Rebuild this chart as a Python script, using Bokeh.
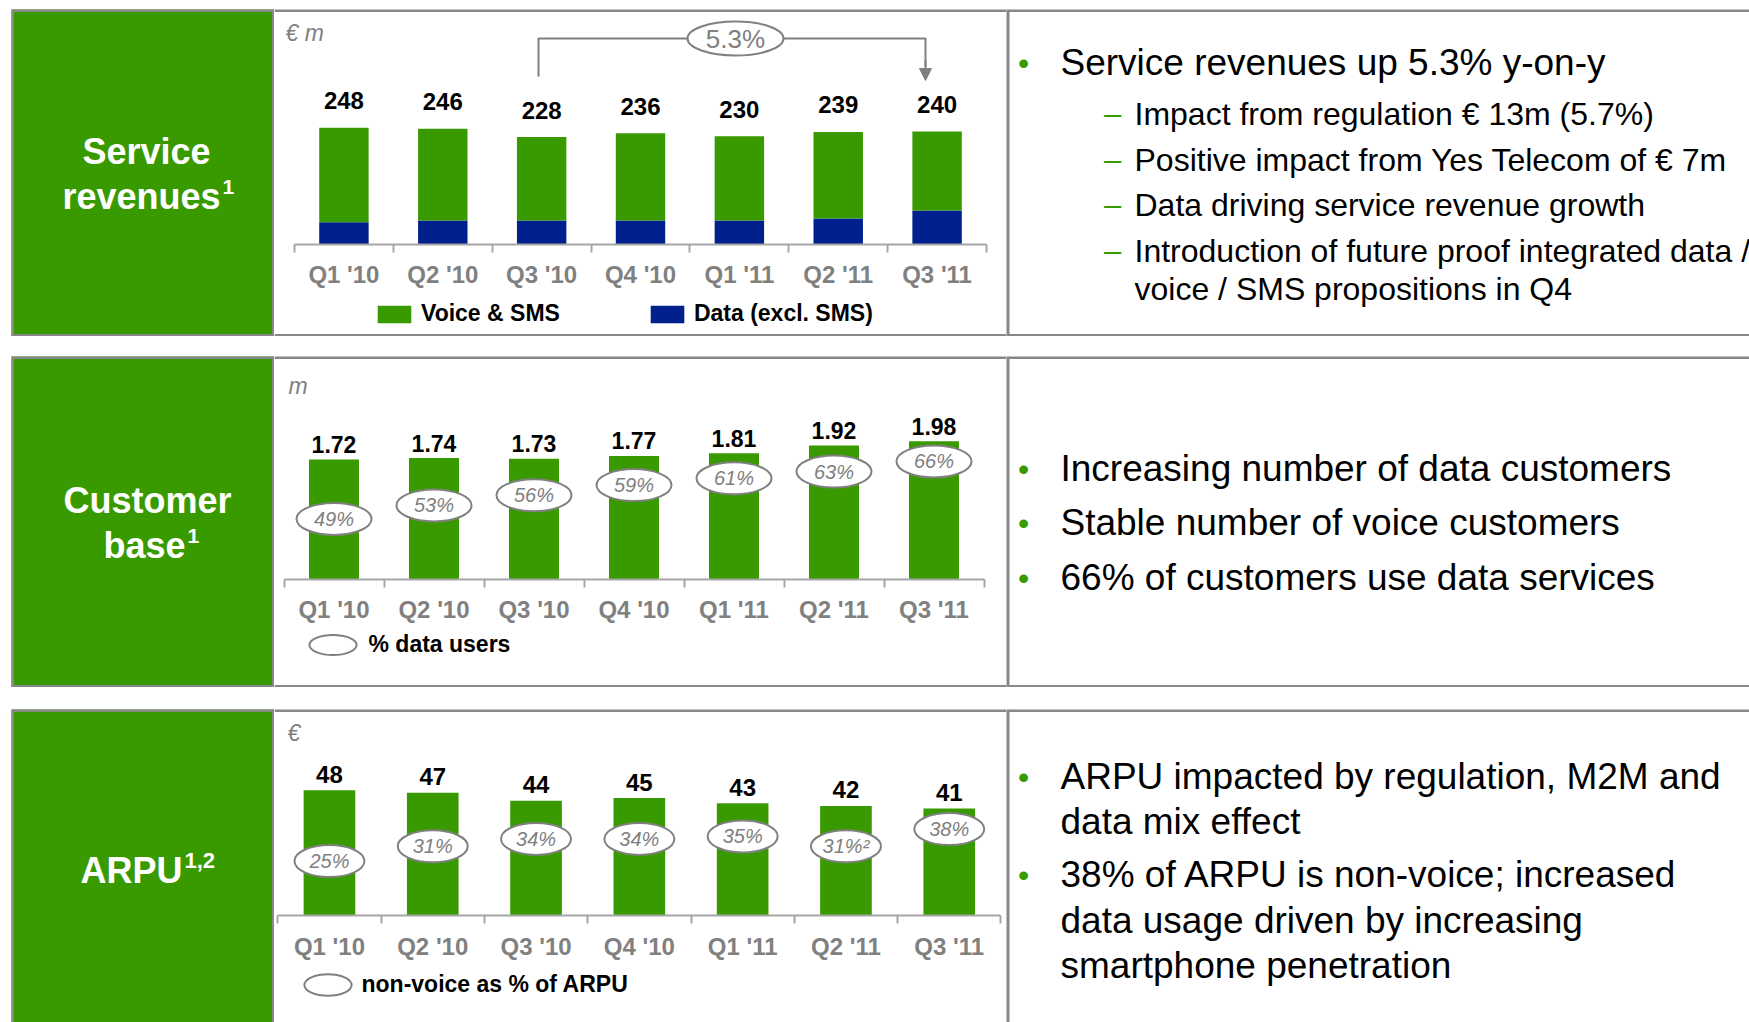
from bokeh.plotting import figure
from bokeh.layouts import column, row
from bokeh.models import (Range1d, LinearAxis, FixedTicker, Span, Legend, LegendItem,
                          ColumnDataSource, Arrow, NormalHead, Spacer)
from bokeh.core.properties import value
from bokeh.embed import file_html
from bokeh.resources import INLINE

# ---------------- data ----------------
quarters = ["Q1 '10", "Q2 '10", "Q3 '10", "Q4 '10", "Q1 '11", "Q2 '11", "Q3 '11"]

service_total = [248, 246, 228, 236, 230, 239, 240]
service_data = [47, 51, 51, 51, 51, 55, 72]
service_voice = [201, 195, 177, 185, 179, 184, 168]
service_growth = "5.3%"

customers = [1.72, 1.74, 1.73, 1.77, 1.81, 1.92, 1.98]
data_user_pct = [49, 53, 56, 59, 61, 63, 66]

arpu = [48, 47, 44, 45, 43, 42, 41]
nonvoice_pct = [25, 31, 34, 34, 35, 31, 38]
nonvoice_labels = ["25%", "31%", "34%", "34%", "35%", "31%\u00b2", "38%"]

text1_main = ["Service revenues up 5.3% y-on-y"]
text1_sub = ["Impact from regulation \u20ac 13m (5.7%)",
             "Positive impact from Yes Telecom of \u20ac 7m",
             "Data driving service revenue growth",
             "Introduction of future proof integrated data /",
             "voice / SMS propositions in Q4"]
text2_main = ["Increasing number of data customers",
              "Stable number of voice customers",
              "66% of customers use data services"]
text3_main = ["ARPU impacted by regulation, M2M and",
              "data mix effect",
              "38% of ARPU is non-voice; increased",
              "data usage driven by increasing",
              "smartphone penetration"]

# ---------------- style ----------------
FONT = "Liberation Sans"
GREEN = "#399A00"
BLUE = "#00208E"
BORDER = "#888888"
AXIS = "#A6A6A6"
GREY_TXT = "#808080"
ELL = "#808080"

CHART_LEFT = 274
CHART_W = 732
TITLE_W = 263
TEXT_W = 743

xs = [i + 0.5 for i in range(len(quarters))]


def base_fig(w, h, xr, yr, bg="white"):
    p = figure(width=w, height=h, x_range=xr, y_range=yr, title=None,
               toolbar_location=None, output_backend="svg",
               x_axis_location=None, y_axis_location=None, min_border=0,
               outline_line_color=None, background_fill_color=bg, border_fill_color=bg)
    p.grid.grid_line_color = None
    return p


def border(p, loc, dim, w):
    p.add_layout(Span(location=loc, dimension=dim, line_color=BORDER, line_width=w))


def make_chart(top, h, axis_left, cw, baseline, ppu, standoff, bottom_border=True):
    xr = Range1d((CHART_LEFT - axis_left) / cw, (CHART_LEFT + CHART_W - axis_left) / cw)
    yr = Range1d((baseline - (top + h)) / ppu, (baseline - top) / ppu)
    p = base_fig(CHART_W, h, xr, yr)
    border(p, yr.end, "width", 5)
    if bottom_border:
        border(p, yr.start, "width", 5)
    n = len(quarters)
    tick_axis = LinearAxis(ticker=FixedTicker(ticks=list(range(n + 1))), fixed_location=0,
                           bounds=(0, n), axis_line_color=AXIS, axis_line_width=2,
                           major_tick_line_color=AXIS, major_tick_line_width=2,
                           major_tick_in=0, major_tick_out=8, minor_tick_line_color=None,
                           major_label_text_font_size="0px", major_label_text_alpha=0)
    p.add_layout(tick_axis, "below")
    lab_axis = LinearAxis(ticker=FixedTicker(ticks=xs),
                          major_label_overrides={x: q for x, q in zip(xs, quarters)},
                          fixed_location=0, axis_line_color=None, major_tick_line_color=None,
                          minor_tick_line_color=None, major_tick_in=0, major_tick_out=0,
                          major_label_standoff=standoff, major_label_text_font=FONT,
                          major_label_text_font_style="bold", major_label_text_font_size="24px",
                          major_label_text_color=GREY_TXT)
    p.add_layout(lab_axis, "below")

    def fx(px):
        return (px - axis_left) / cw

    def fy(py):
        return (baseline - py) / ppu
    return p, fx, fy


def make_title(h, bottom_border=True):
    p = base_fig(TITLE_W, h, Range1d(0, TITLE_W), Range1d(h, 0), bg=GREEN)
    border(p, 0, "height", 5)
    border(p, TITLE_W, "height", 5)
    border(p, 0, "width", 5)
    if bottom_border:
        border(p, h, "width", 5)
    return p


def title_text(p, x, y, txt, size, align):
    p.text(x=x, y=y, text=txt, text_font=value(FONT), text_font_style="bold",
           text_font_size=size, text_color="white", text_align=align, text_baseline="middle")


def make_text(h, bottom_border=True):
    p = base_fig(TEXT_W, h, Range1d(0, TEXT_W), Range1d(h, 0))
    border(p, 0, "height", 6)
    border(p, 0, "width", 5)
    if bottom_border:
        border(p, h, "width", 5)
    return p


def body_text(p, x, y, txt, size):
    p.text(x=x, y=y, text=txt, text_font=value(FONT), text_font_size=size,
           text_color="black", text_align="left", text_baseline="middle")


def marks(p, x, y, sym, size):
    p.text(x=x, y=y, text=[sym] * len(y), text_font=value(FONT), text_font_size=size,
           text_color=GREEN, text_align="center", text_baseline="middle")


# ================= Row 1: service revenues =================
c1, fx1, fy1 = make_chart(9, 327, 294, 98.86, 244, 0.471, 16)
src1 = ColumnDataSource(dict(x=xs, total=service_total, lbl=[str(v) for v in service_total],
                             data=service_data, voice=service_voice))
r_data, r_voice = c1.vbar_stack(["data", "voice"], x="x", width=0.5, source=src1,
                                fill_color=[BLUE, GREEN], line_color=None)
c1.text(x="x", y="total", text="lbl", source=src1, y_offset=-27, text_align="center",
        text_baseline="middle", text_font=value(FONT), text_font_style="bold",
        text_font_size="24px", text_color="black")
c1.text(x=[fx1(285)], y=[fy1(32)], text=["\u20ac m"], text_font=value(FONT),
        text_font_style="italic", text_font_size="23px", text_color=GREY_TXT,
        text_baseline="middle")
c1.line(x=[fx1(538), fx1(538), fx1(925), fx1(925)], y=[fy1(76), fy1(38), fy1(38), fy1(66)],
        line_color="#7F7F7F", line_width=2)
c1.add_layout(Arrow(end=NormalHead(size=12, fill_color="#7F7F7F", line_color="#7F7F7F"),
                    x_start=fx1(925), y_start=fy1(60), x_end=fx1(925), y_end=fy1(80),
                    line_color="#7F7F7F", line_width=2))
c1.ellipse(x=[fx1(735)], y=[fy1(38)], width=96, height=34, width_units="screen",
           height_units="screen", fill_color="white", line_color=ELL, line_width=2)
c1.text(x=[fx1(735)], y=[fy1(38)], text=[service_growth], text_font=value(FONT),
        text_font_size="26px", text_color=GREY_TXT, text_align="center", text_baseline="middle")
leg1 = Legend(items=[LegendItem(label="Voice & SMS", renderers=[r_voice]),
                     LegendItem(label="Data (excl. SMS)", renderers=[r_data])],
              orientation="horizontal", location=(99, 9), border_line_color=None,
              background_fill_alpha=0, padding=0, margin=0, spacing=86,
              glyph_width=42, glyph_height=22, label_standoff=6,
              label_text_font=FONT, label_text_font_style="bold",
              label_text_font_size="23px", label_text_color="black")
c1.add_layout(leg1)

t1 = make_title(327)
title_text(t1, [135], [142], ["Service"], "36px", "center")
title_text(t1, [209], [187], ["revenues"], "36px", "right")
title_text(t1, [211], [177], ["1"], "21px", "left")

x1 = make_text(327)
marks(x1, [17], [53], "\u2022", "32px")
body_text(x1, [54], [53], text1_main, "37px")
marks(x1, [106] * 4, [104, 150, 195, 241], "\u2013", "31px")
body_text(x1, [128] * 5, [104, 150, 195, 241, 279], text1_sub, "32px")

# ================= Row 2: customer base =================
c2, fx2, fy2 = make_chart(356, 331, 283.5, 100, 579, 69.8, 16)
c2.extra_y_ranges = {"pct": Range1d(-0.8, 97.0)}
src2 = ColumnDataSource(dict(x=xs, v=customers, lbl=["%.2f" % v for v in customers],
                             pct=data_user_pct, plbl=["%d%%" % v for v in data_user_pct]))
c2.vbar(x="x", top="v", width=0.5, source=src2, fill_color=GREEN, line_color=None)
c2.text(x="x", y="v", text="lbl", source=src2, y_offset=-15, text_align="center",
        text_baseline="middle", text_font=value(FONT), text_font_style="bold",
        text_font_size="23px", text_color="black")
e2 = c2.ellipse(x="x", y="pct", width=75, height=32, width_units="screen", height_units="screen",
                source=src2, y_range_name="pct", fill_color="white", line_color=ELL, line_width=2)
c2.text(x="x", y="pct", text="plbl", source=src2, y_range_name="pct", text_align="center",
        text_baseline="middle", text_font=value(FONT), text_font_style="italic",
        text_font_size="20px", text_color=GREY_TXT)
c2.text(x=[fx2(288)], y=[fy2(385)], text=["m"], text_font=value(FONT),
        text_font_style="italic", text_font_size="23px", text_color=GREY_TXT,
        text_baseline="middle")
leg2 = Legend(items=[LegendItem(label="% data users", renderers=[e2])],
              location=(28.5, 13.5), border_line_color=None, background_fill_alpha=0,
              padding=0, margin=0, glyph_width=59, glyph_height=59, label_standoff=7,
              label_text_font=FONT, label_text_font_style="bold",
              label_text_font_size="23px", label_text_color="black")
c2.add_layout(leg2)

t2 = make_title(331)
title_text(t2, [136], [144], ["Customer"], "36px", "center")
title_text(t2, [174], [189], ["base"], "36px", "right")
title_text(t2, [176], [179], ["1"], "21px", "left")

x2 = make_text(331)
marks(x2, [17] * 3, [112, 166, 221], "\u2022", "32px")
body_text(x2, [54] * 3, [112, 166, 221], text2_main, "37px")

# ================= Row 3: ARPU =================
c3, fx3, fy3 = make_chart(709, 313, 277.3, 103.3, 915, 2.61, 17, bottom_border=False)
c3.extra_y_ranges = {"pct": Range1d(-40.5, 86.5)}
src3 = ColumnDataSource(dict(x=xs, v=arpu, lbl=[str(v) for v in arpu],
                             pct=nonvoice_pct, plbl=nonvoice_labels))
c3.vbar(x="x", top="v", width=0.5, source=src3, fill_color=GREEN, line_color=None)
c3.text(x="x", y="v", text="lbl", source=src3, y_offset=-16, text_align="center",
        text_baseline="middle", text_font=value(FONT), text_font_style="bold",
        text_font_size="24px", text_color="black")
e3 = c3.ellipse(x="x", y="pct", width=70, height=32, width_units="screen", height_units="screen",
                source=src3, y_range_name="pct", fill_color="white", line_color=ELL, line_width=2)
c3.text(x="x", y="pct", text="plbl", source=src3, y_range_name="pct", text_align="center",
        text_baseline="middle", text_font=value(FONT), text_font_style="italic",
        text_font_size="20px", text_color=GREY_TXT)
c3.text(x=[fx3(287)], y=[fy3(732)], text=["\u20ac"], text_font=value(FONT),
        text_font_style="italic", text_font_size="23px", text_color=GREY_TXT,
        text_baseline="middle")
leg3 = Legend(items=[LegendItem(label="non-voice as % of ARPU", renderers=[e3])],
              location=(23.5, 8.5), border_line_color=None, background_fill_alpha=0,
              padding=0, margin=0, glyph_width=59, glyph_height=59, label_standoff=5,
              label_text_font=FONT, label_text_font_style="bold",
              label_text_font_size="23px", label_text_color="black")
c3.add_layout(leg3)

t3 = make_title(313, bottom_border=False)
title_text(t3, [171], [161], ["ARPU"], "36px", "right")
title_text(t3, [173], [151], ["1,2"], "22px", "left")

x3 = make_text(313, bottom_border=False)
marks(x3, [17] * 2, [67, 165], "\u2022", "32px")
body_text(x3, [54] * 5, [67, 112, 165, 211, 256], text3_main, "37px")

layout = column(
    Spacer(width=1749, height=9),
    row(Spacer(width=11, height=327), t1, c1, x1),
    Spacer(width=1749, height=20),
    row(Spacer(width=11, height=331), t2, c2, x2),
    Spacer(width=1749, height=22),
    row(Spacer(width=11, height=313), t3, c3, x3),
)

open("out.html", "w").write(file_html(layout, INLINE))
